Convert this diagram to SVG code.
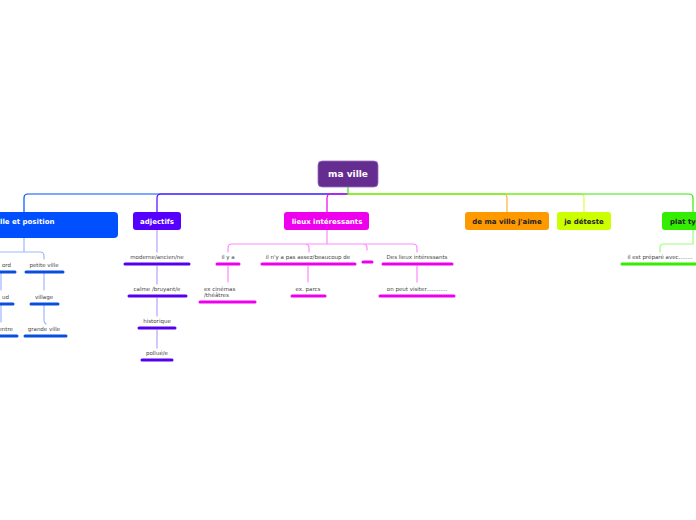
<svg xmlns="http://www.w3.org/2000/svg" width="696" height="520" viewBox="0 0 696 520">
<style>
.nt{font-family:"DejaVu Sans",sans-serif;font-weight:bold;font-size:7px;text-anchor:middle}
.st{font-family:"DejaVu Sans",sans-serif;font-size:5.5px;fill:#444;text-anchor:middle}
.c{fill:none;stroke-width:1.2;stroke-linecap:round}
.u{stroke-width:3;stroke-linecap:round}
</style>
<rect width="696" height="520" fill="#fff"/>
<g id="connectors">
  <path class="c" stroke="#0050ff" d="M348,194 H28 Q24,194 24,198 V212"/>
  <path class="c" stroke="#5500ff" d="M348,194 H161 Q157,194 157,198 V212"/>
  <path class="c" stroke="#ee00ee" d="M348,194 H331 Q327,194 327,198 V212"/>
  <path class="c" stroke="#ffb040" d="M348,194 H503 Q507,194 507,198 V212"/>
  <path class="c" stroke="#ddff40" d="M348,194 H580 Q584,194 584,198 V212"/>
  <path class="c" stroke="#33ee00" d="M348,186 V194 H689 Q693,194 693,198 V212"/>
  <!-- ville et position children -->
  <path class="c" stroke="#9fb8ff" d="M24,238 V252 M-4,252 H40 Q44,252 44,256 V259 M44,273 V290 M44,305 V320 Q44,323 46,324 M1,273 V290 M1,305 V322"/>
  <!-- adjectifs -->
  <path class="c" stroke="#b9a0ff" d="M157,230 V252 M157,266 V284 M157,298 V316 M157,330 V348"/>
  <!-- lieux -->
  <path class="c" stroke="#ff88ff" d="M327,230 V244 M228,252 V248 Q228,244 232,244 H413 Q417,244 417,248 V252 M305,244 Q309,244 309,248 V252 M363,244 Q367,244 367,248 V250 M228,266 V282 M308,266 V282 M417,266 V282"/>
  <!-- plat -->
  <path class="c" stroke="#99ff77" d="M693,230 V244 H664 Q660,244 660,248 V252"/>
</g>
<g id="root"><rect x="318" y="161" width="60" height="26" rx="4" fill="#662d91" stroke="#9b6cc0" stroke-width="0.8"/><text class="nt" x="348" y="177" style="font-size:9px" fill="#fff">ma ville</text></g>
<g id="n-ville"><rect x="-10" y="212" width="128" height="26" rx="4" fill="#0050ff"/><text class="nt" x="0" y="223.5" fill="#fff" style="text-anchor:start">lle  et position</text></g>
<g id="n-adjectifs"><rect x="133" y="212" width="48" height="18" rx="3" fill="#5500ff"/><text class="nt" x="157" y="223.5" fill="#fff">adjectifs</text></g>
<g id="n-lieux"><rect x="284" y="212" width="85" height="18" rx="3" fill="#ee00ee"/><text class="nt" x="327" y="223.5" fill="#fff">lieux intéressants</text></g>
<g id="n-aime"><rect x="465" y="212" width="84" height="18" rx="3" fill="#ff9900"/><text class="nt" x="507" y="223.5" fill="#222">de ma ville j'aime</text></g>
<g id="n-deteste"><rect x="557" y="212" width="54" height="18" rx="3" fill="#ccff00"/><text class="nt" x="584" y="223.5" fill="#222">je déteste</text></g>
<g id="n-plat"><rect x="662" y="212" width="44" height="18" rx="3" fill="#33ee00"/><text class="nt" x="670" y="223.5" fill="#222" style="text-anchor:start">plat ty</text></g>
<!-- ville children -->
<g id="s-nord"><text class="st" x="11" y="267" style="text-anchor:end">ord</text><line class="u" x1="-2" y1="272" x2="15" y2="272" stroke="#0a4ee0"/></g>
<g id="s-sud"><text class="st" x="9" y="299" style="text-anchor:end">ud</text><line class="u" x1="-2" y1="304" x2="13" y2="304" stroke="#0a4ee0"/></g>
<g id="s-centre"><text class="st" x="13" y="331" style="text-anchor:end">entre</text><line class="u" x1="-2" y1="336" x2="17" y2="336" stroke="#0a4ee0"/></g>
<g id="s-petite"><text class="st" x="44" y="267">petite ville</text><line class="u" x1="26" y1="272" x2="63" y2="272" stroke="#0a4ee0"/></g>
<g id="s-village"><text class="st" x="44" y="299">village</text><line class="u" x1="31" y1="304" x2="58" y2="304" stroke="#0a4ee0"/></g>
<g id="s-grande"><text class="st" x="44" y="331">grande ville</text><line class="u" x1="25" y1="336" x2="66" y2="336" stroke="#0a4ee0"/></g>
<!-- adjectifs children -->
<g id="s-moderne"><text class="st" x="157" y="259">moderne/ancien/ne</text><line class="u" x1="125" y1="264" x2="189" y2="264" stroke="#5500ee"/></g>
<g id="s-calme"><text class="st" x="157" y="291">calme /bruyant/e</text><line class="u" x1="129" y1="296" x2="186" y2="296" stroke="#5500ee"/></g>
<g id="s-historique"><text class="st" x="157" y="323">historique</text><line class="u" x1="139" y1="328" x2="175" y2="328" stroke="#5500ee"/></g>
<g id="s-pollue"><text class="st" x="157" y="355">pollué/e</text><line class="u" x1="142" y1="360" x2="172" y2="360" stroke="#5500ee"/></g>
<!-- lieux children -->
<g id="s-ilya"><text class="st" x="228" y="259">il y a</text><line class="u" x1="217" y1="264" x2="239" y2="264" stroke="#ee00ee"/></g>
<g id="s-ilnya"><text class="st" x="308" y="259">il n'y a pas assez/beaucoup de</text><line class="u" x1="262" y1="264" x2="355" y2="264" stroke="#ee00ee"/></g>
<g id="s-empty"><line class="u" x1="363" y1="262" x2="372" y2="262" stroke="#ee00ee"/></g>
<g id="s-des"><text class="st" x="417" y="259">Des lieux intéressants</text><line class="u" x1="383" y1="264" x2="452" y2="264" stroke="#ee00ee"/></g>
<g id="s-cinemas"><text class="st" x="204" y="291" style="text-anchor:start">ex cinémas</text><text class="st" x="204" y="297" style="text-anchor:start">/théâtres</text><line class="u" x1="200" y1="302" x2="255" y2="302" stroke="#ee00ee"/></g>
<g id="s-parcs"><text class="st" x="308" y="291">ex. parcs</text><line class="u" x1="292" y1="296" x2="325" y2="296" stroke="#ee00ee"/></g>
<g id="s-visiter"><text class="st" x="417" y="291">on peut visiter............</text><line class="u" x1="380" y1="296" x2="454" y2="296" stroke="#ee00ee"/></g>
<!-- plat child -->
<g id="s-prepare"><text class="st" x="660" y="259">il est préparé avec........</text><line class="u" x1="622" y1="264" x2="698" y2="264" stroke="#33ee00"/></g>
</svg>
